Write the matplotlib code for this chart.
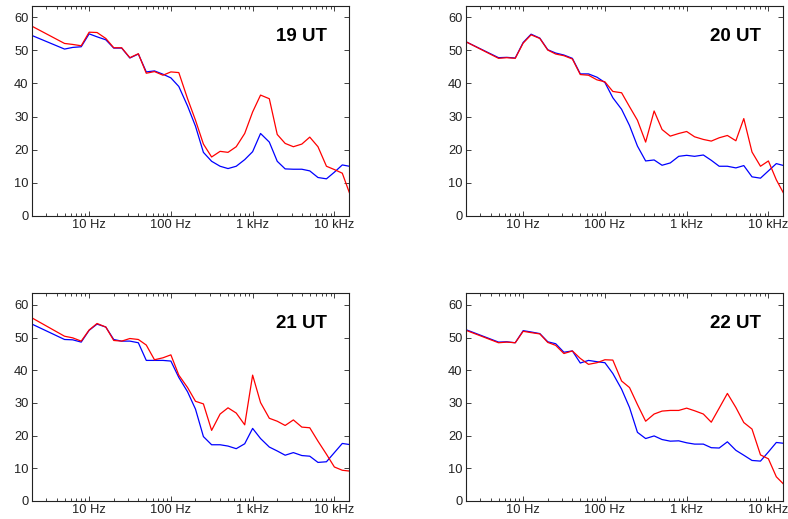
import matplotlib
matplotlib.use("Agg")
import matplotlib.pyplot as plt
from matplotlib.ticker import FixedLocator, LogLocator, NullFormatter

plt.rcParams['font.family'] = ['Liberation Sans', 'DejaVu Sans']

# third-octave band centre frequencies (Hz)
freq = [2, 5, 6.3, 8, 10, 12.5, 16, 20, 25, 31.5, 40, 50, 63, 80, 100, 125,
        160, 200, 250, 315, 400, 500, 630, 800, 1000, 1250, 1600, 2000, 2500,
        3150, 4000, 5000, 6300, 8000, 10000, 12500, 16000]

titles = ['19 UT', '20 UT', '21 UT', '22 UT']

blue_19 = [54.5, 50.4, 50.9, 51.1, 55.0, 54.1, 53.2, 50.7, 50.7, 47.7, 48.9, 43.5,
           43.8, 42.8, 41.7, 39.1, 33.2, 27.1, 19.2, 16.5, 15.0, 14.3, 15.0, 17.0,
           19.4, 24.9, 22.3, 16.5, 14.2, 14.1, 14.1, 13.6, 11.6, 11.2, 13.2, 15.4, 14.9]
red_19 = [57.3, 52.1, 51.8, 51.4, 55.5, 55.4, 53.6, 50.8, 50.8, 47.8, 49.0, 43.1,
          43.6, 42.5, 43.5, 43.3, 35.4, 28.9, 21.7, 17.8, 19.5, 19.2, 20.9, 24.9,
          31.4, 36.5, 35.4, 24.6, 21.9, 20.9, 21.7, 23.8, 20.9, 15.0, 14.0, 12.9, 5.6]

blue_20 = [52.6, 47.8, 47.9, 47.7, 52.4, 54.9, 53.7, 50.2, 49.2, 48.6, 47.6, 42.9,
           42.9, 41.9, 40.3, 35.7, 32.2, 27.3, 21.1, 16.6, 16.9, 15.3, 16.0, 18.0,
           18.3, 18.0, 18.4, 16.8, 15.0, 15.0, 14.5, 15.2, 11.8, 11.4, 13.6, 15.8, 15.1]
red_20 = [52.6, 47.6, 47.8, 47.6, 52.2, 54.7, 53.6, 50.1, 48.9, 48.4, 47.4, 42.7,
          42.5, 41.1, 40.5, 37.6, 37.2, 33.0, 28.9, 22.3, 31.7, 26.1, 24.1, 24.9,
          25.5, 23.9, 23.1, 22.6, 23.6, 24.3, 22.7, 29.4, 19.3, 15.0, 16.6, 10.9, 6.0]

blue_21 = [54.1, 49.4, 49.3, 48.6, 52.2, 54.1, 53.2, 49.4, 48.9, 48.9, 48.4, 43.0,
           43.0, 43.0, 42.8, 37.8, 33.4, 28.1, 19.7, 17.2, 17.2, 16.8, 16.0, 17.5,
           22.2, 19.1, 16.5, 15.3, 14.0, 14.8, 13.9, 13.7, 11.8, 12.0, 14.8, 17.6, 17.2]
red_21 = [56.0, 50.4, 49.9, 48.9, 52.3, 54.3, 53.2, 49.1, 48.9, 49.7, 49.4, 47.7,
          43.2, 43.8, 44.7, 38.5, 34.7, 30.5, 29.7, 21.6, 26.6, 28.5, 26.9, 23.3,
          38.5, 30.1, 25.3, 24.4, 23.1, 24.8, 22.6, 22.4, 18.3, 14.3, 10.4, 9.4, 9.1]

blue_22 = [52.4, 48.6, 48.7, 48.4, 52.1, 51.7, 51.2, 48.7, 48.1, 45.5, 45.9, 42.2,
           43.0, 42.6, 42.3, 39.0, 34.2, 28.6, 21.0, 19.1, 19.9, 18.8, 18.3, 18.4,
           17.8, 17.4, 17.4, 16.3, 16.2, 18.1, 15.5, 14.0, 12.4, 12.2, 15.0, 17.9, 17.6]
red_22 = [52.2, 48.4, 48.6, 48.4, 51.9, 51.5, 51.1, 48.5, 47.6, 45.1, 45.9, 43.6,
          41.8, 42.3, 43.2, 43.1, 36.7, 34.7, 29.5, 24.4, 26.6, 27.5, 27.7, 27.7,
          28.4, 27.6, 26.6, 24.1, 28.4, 32.9, 28.6, 24.0, 22.0, 14.1, 12.9, 7.4, 4.7]

xtick_pos = [10, 100, 1000, 10000]
xtick_lbl = ['10 Hz', '100 Hz', '1 kHz', '10 kHz']
ytick_pos = [0, 10, 20, 30, 40, 50, 60]

panels = [(blue_19, red_19), (blue_20, red_20), (blue_21, red_21), (blue_22, red_22)]
# axes boxes in figure fractions: left, bottom, width, height
boxes = [[0.0406, 0.584, 0.402, 0.405],
         [0.5914, 0.584, 0.402, 0.405],
         [0.0406, 0.0347, 0.402, 0.400],
         [0.5914, 0.0347, 0.402, 0.400]]

fig = plt.figure(figsize=(7.88, 5.19), dpi=100)

for (blue, red), box, title in zip(panels, boxes, titles):
    ax = fig.add_axes(box)
    ax.plot(freq, blue, color='#0000ff', lw=0.9)
    ax.plot(freq, red, color='#ff0000', lw=0.9)
    ax.set_xscale('log')
    ax.set_xlim(2, 15000)
    ax.set_ylim(0, 63.5)
    ax.xaxis.set_major_locator(FixedLocator(xtick_pos))
    ax.set_xticklabels(xtick_lbl)
    ax.xaxis.set_minor_locator(LogLocator(base=10, subs=range(2, 10), numticks=20))
    ax.xaxis.set_minor_formatter(NullFormatter())
    ax.set_yticks(ytick_pos)
    ax.tick_params(which='both', direction='in', top=True, right=True,
                   labelsize=9.3, colors='#222222', width=0.6)
    ax.tick_params(which='major', length=3.5, pad=2.5)
    ax.tick_params(which='minor', length=2)
    for sp in ax.spines.values():
        sp.set_linewidth(0.8)
        sp.set_color('#222222')
    ax.text(0.93, 0.855, title, transform=ax.transAxes, ha='right', va='center',
            fontsize=13.5, fontweight='bold')

fig.savefig('out.png', dpi=100)
